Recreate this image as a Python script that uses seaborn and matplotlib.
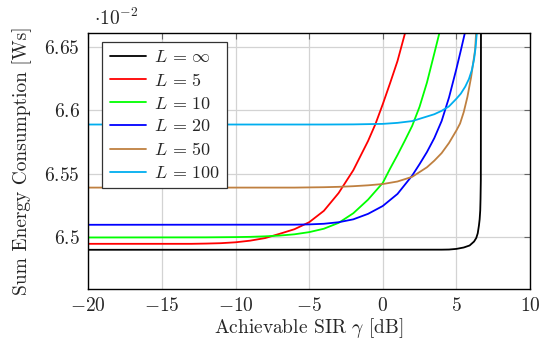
import matplotlib
matplotlib.use("Agg")
import matplotlib.pyplot as plt
import seaborn as sns
import pandas as pd
from matplotlib.ticker import FuncFormatter

# ---- data (y in units of 1e-2 Ws) ----
x_inf = [-20, 4.0, 4.5, 5.0, 5.5, 5.9, 6.2, 6.35, 6.45, 6.53, 6.58, 6.62, 6.64, 6.66, 6.67]
y_inf = [6.490, 6.4901, 6.4902, 6.4907, 6.4918, 6.4934, 6.4965, 6.4993, 6.503, 6.509, 6.514,
         6.521, 6.530, 6.545, 6.661]

x_5 = [-20, -13, -12, -11, -10, -9, -8, -7, -6, -5, -4, -3, -2, -1, -0.5, 0, 0.5, 1, 1.52]
y_5 = [6.4947, 6.4947, 6.4949, 6.4952, 6.4959, 6.4972, 6.4992, 6.5026, 6.5062, 6.5117,
       6.5207, 6.5347, 6.5527, 6.5757, 6.5890, 6.6047, 6.6214, 6.6387, 6.661]

x_10 = [-20, -12, -10, -9, -8, -7, -6, -5, -4, -3, -2, -1, 0, 0.5, 1, 1.5, 2, 2.5, 3, 3.5, 3.85]
y_10 = [6.4997, 6.4998, 6.5000, 6.5002, 6.5006, 6.5012, 6.5022, 6.5039, 6.5066, 6.5112,
        6.5188, 6.5295, 6.5427, 6.5540, 6.5647, 6.5760, 6.5877, 6.6027, 6.6217, 6.6447, 6.661]

x_20 = [-20, -6, -5, -4, -3, -2, -1, 0, 1, 2, 2.5, 3, 3.5, 4, 4.5, 5, 5.3, 5.58]
y_20 = [6.5097, 6.5098, 6.5100, 6.5105, 6.5117, 6.5140, 6.5183, 6.5245, 6.5340, 6.5485,
        6.5575, 6.5670, 6.5780, 6.5915, 6.6100, 6.6325, 6.6470, 6.661]

x_50 = [-20, -6, -4, -3, -2, -1, 0, 1, 2, 3, 3.5, 4, 4.5, 5, 5.25, 5.5, 5.75, 6.0, 6.15, 6.27, 6.34]
y_50 = [6.539, 6.539, 6.5393, 6.5396, 6.5401, 6.5408, 6.5418, 6.5438, 6.5475, 6.5550,
        6.5602, 6.5662, 6.5742, 6.5840, 6.5895, 6.5985, 6.6105, 6.6260, 6.6380, 6.6474, 6.661]

x_100 = [-20, -4, -2, 0, 1, 2, 3, 3.5, 4, 4.5, 5, 5.3, 5.6, 5.85, 6.05, 6.2, 6.3, 6.39]
y_100 = [6.5887, 6.5887, 6.5888, 6.5892, 6.5900, 6.5914, 6.5950, 6.5968, 6.5995, 6.6030,
         6.6090, 6.6130, 6.6185, 6.6245, 6.6316, 6.6400, 6.6490, 6.661]

labels = [r"$L\,=\,\infty$", r"$L\,=\,5$", r"$L\,=\,10$", r"$L\,=\,20$", r"$L\,=\,50$", r"$L\,=\,100$"]
colors = ["#000000", "#FF0000", "#00FF00", "#0000FF", "#BF8040", "#00AEEF"]
series = [(x_inf, y_inf), (x_5, y_5), (x_10, y_10), (x_20, y_20), (x_50, y_50), (x_100, y_100)]

xticks = [-20, -15, -10, -5, 0, 5, 10]
yticks = [6.5, 6.55, 6.6, 6.65]

# ---- style ----
sns.set_style("white")
plt.rcParams["font.family"] = "serif"
plt.rcParams["font.serif"] = ["cmr10", "DejaVu Serif"]
plt.rcParams["mathtext.fontset"] = "cm"
plt.rcParams["axes.formatter.use_mathtext"] = True
plt.rcParams["axes.unicode_minus"] = True

fig = plt.figure(figsize=(5.42, 3.47), dpi=100)
ax = fig.add_axes([88.3 / 542, 1 - 288.5 / 347, (530 - 88.3) / 542, (288.5 - 33) / 347])

for (xs, ys), lab, col in zip(series, labels, colors):
    df = pd.DataFrame({"x": xs, "y": ys})
    sns.lineplot(data=df, x="x", y="y", color=col, lw=1.3, label=lab, ax=ax,
                 estimator=None, sort=False)

ax.set_xlim(-20, 10)
ax.set_ylim(6.4595, 6.6608)
ax.set_xticks(xticks)
ax.set_yticks(yticks)
ax.xaxis.set_major_formatter(FuncFormatter(lambda v, p: r"$%g$" % v))
ax.yaxis.set_major_formatter(FuncFormatter(lambda v, p: r"$%g$" % v))
ax.tick_params(direction="in", length=4, width=0.8, color="#666666",
               top=True, right=True, labelsize=14, pad=6)
ax.grid(True, color="#d3d3d3", lw=0.9)
ax.set_axisbelow(True)
for s in ax.spines.values():
    s.set_color("black")
    s.set_linewidth(1.0)

ax.set_xlabel(r"Achievable SIR $\gamma$ [dB]", fontsize=14, labelpad=1)
ax.set_ylabel("Sum Energy Consumption [Ws]", fontsize=14, labelpad=9)
ax.text(0.012, 1.015, r"$\cdot 10^{-2}$", transform=ax.transAxes, fontsize=14,
        ha="left", va="bottom")

leg = ax.legend(loc="upper left", bbox_to_anchor=(0.032, 0.966), borderaxespad=0,
                fontsize=13, frameon=True, fancybox=False, framealpha=1,
                edgecolor="#333333", handlelength=2.0, handletextpad=0.45,
                labelspacing=0.38, borderpad=0.4)
leg.get_frame().set_linewidth(0.9)

fig.savefig("out.png", dpi=100)
